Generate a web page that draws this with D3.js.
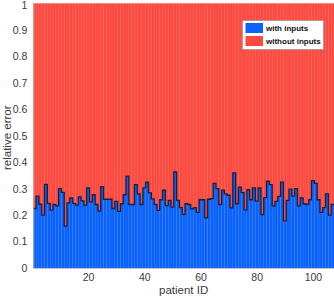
<!DOCTYPE html>
<html>
<head>
<meta charset="utf-8">
<script src="https://cdn.jsdelivr.net/npm/d3@7"></script>
<style>
body { margin: 0; background: #fff; }
text { font-family: "Liberation Sans", Arial, sans-serif; }
</style>
</head>
<body>
<div id="chart"></div>
<script>
// relative error per patient, model with inputs (blue); "without inputs" fills up to 1
var withInputs = [
  0.225, 0.272, 0.241, 0.200, 0.316, 0.244, 0.219, 0.240, 0.235, 0.300,
  0.286, 0.158, 0.246, 0.265, 0.244, 0.238, 0.269, 0.254, 0.238, 0.303,
  0.250, 0.277, 0.240, 0.215, 0.308, 0.260, 0.260, 0.260, 0.225, 0.252,
  0.214, 0.243, 0.277, 0.347, 0.240, 0.240, 0.315, 0.280, 0.240, 0.303,
  0.325, 0.284, 0.261, 0.240, 0.218, 0.258, 0.294, 0.236, 0.256, 0.230,
  0.363, 0.256, 0.228, 0.203, 0.243, 0.240, 0.224, 0.228, 0.210, 0.258,
  0.258, 0.190, 0.260, 0.262, 0.320, 0.300, 0.240, 0.294, 0.280, 0.275,
  0.227, 0.360, 0.243, 0.306, 0.285, 0.220, 0.296, 0.258, 0.303, 0.253,
  0.303, 0.202, 0.266, 0.328, 0.315, 0.235, 0.252, 0.271, 0.325, 0.178,
  0.256, 0.298, 0.272, 0.300, 0.235, 0.265, 0.243, 0.240, 0.258, 0.330,
  0.320, 0.258, 0.210, 0.228, 0.280, 0.200, 0.240
];
var patients = withInputs.map(function(d, i) { return i + 1; });
var total = 1;
var yTicks = [0, 0.1, 0.2, 0.3, 0.4, 0.5, 0.6, 0.7, 0.8, 0.9, 1];
var xTicks = [20, 40, 60, 80, 100];
var seriesNames = ["with inputs", "without inputs"];
var seriesColors = ["#0b62fb", "#fd4a40"];

var width = 334, height = 299;
var margin = {left: 33.3, right: 0, top: 3.5, bottom: 31};

var svg = d3.select("#chart").append("svg")
	.attr("width", width)
	.attr("height", height);

var x = d3.scaleLinear()
	.domain([0.5, patients.length + 0.5])
	.range([margin.left, width - margin.right]);
var y = d3.scaleLinear()
	.domain([0, 1])
	.range([height - margin.bottom, margin.top]);

var bw = x(1) - x(0);

// red part (without inputs), stacked on top of blue
svg.append("g").selectAll("rect")
	.data(patients)
	.enter().append("rect")
	.attr("x", function(d) { return x(d - 0.5); })
	.attr("width", bw)
	.attr("y", y(total))
	.attr("height", function(d, i) { return y(withInputs[i]) - y(total); })
	.style("fill", seriesColors[1])
	.style("stroke", "#ff5a50")
	.style("stroke-width", 0.3);

// blue part (with inputs)
svg.append("g").selectAll("rect")
	.data(patients)
	.enter().append("rect")
	.attr("x", function(d) { return x(d - 0.5); })
	.attr("width", bw)
	.attr("y", function(d, i) { return y(withInputs[i]); })
	.attr("height", function(d, i) { return y(0) - y(withInputs[i]); })
	.style("fill", seriesColors[0])
	.style("stroke", "#2a78ff")
	.style("stroke-width", 0.3);

// dark outline along the top of the blue bars
var stepPts = [];
patients.forEach(function(p, i) {
	stepPts.push([p - 0.5, withInputs[i]]);
	stepPts.push([p + 0.5, withInputs[i]]);
});
svg.append("path")
	.datum(stepPts)
	.attr("d", d3.line().x(function(d) { return x(d[0]); }).y(function(d) { return y(d[1]); }))
	.style("fill", "none")
	.style("stroke", "#14213a")
	.style("stroke-width", 1.3);

// axes
var yAxis = svg.append("g")
	.attr("transform", "translate(" + margin.left + ",0)")
	.call(d3.axisLeft(y).tickValues(yTicks).tickSize(0).tickPadding(6).tickFormat(d3.format("")));
var xAxis = svg.append("g")
	.attr("transform", "translate(0," + (height - margin.bottom) + ")")
	.call(d3.axisBottom(x).tickValues(xTicks).tickSize(0).tickPadding(6));
[yAxis, xAxis].forEach(function(a) {
	a.select(".domain").style("stroke", "#b8b8b8").style("stroke-width", 0.8);
	a.selectAll("text").style("font-size", "10.5px").style("fill", "#3a3a3a");
});
// keep the top label inside the page
yAxis.selectAll(".tick text").filter(function(d) { return d === 1; }).attr("dy", "0.78em").attr("y", -3);

svg.append("text")
	.attr("x", (margin.left + width) / 2)
	.attr("y", 294)
	.attr("text-anchor", "middle")
	.style("font-size", "11.5px")
	.style("fill", "#3a3a3a")
	.text("patient ID");
svg.append("text")
	.attr("transform", "translate(11," + (y(0.5) + 2) + ") rotate(-90)")
	.attr("text-anchor", "middle")
	.style("font-size", "11.5px")
	.style("fill", "#3a3a3a")
	.text("relative error");

// legend
var legend = svg.append("g").attr("transform", "translate(242.5,20.5)");
legend.append("rect")
	.attr("width", 81)
	.attr("height", 29)
	.style("fill", "#fff")
	.style("stroke", "#8a8a8a")
	.style("stroke-width", 0.6);
var item = legend.selectAll(".item")
	.data(seriesNames)
	.enter().append("g")
	.attr("class", "item")
	.attr("transform", function(d, i) { return "translate(3," + (2.5 + i * 13) + ")"; });
item.append("rect")
	.attr("width", 17.5)
	.attr("height", 10)
	.style("fill", function(d, i) { return seriesColors[i]; });
item.append("text")
	.attr("x", 20.5)
	.attr("y", 8)
	.style("font-size", "8px")
	.style("font-weight", "bold")
	.style("fill", "#111")
	.text(function(d) { return d; });
</script>
</body>
</html>
